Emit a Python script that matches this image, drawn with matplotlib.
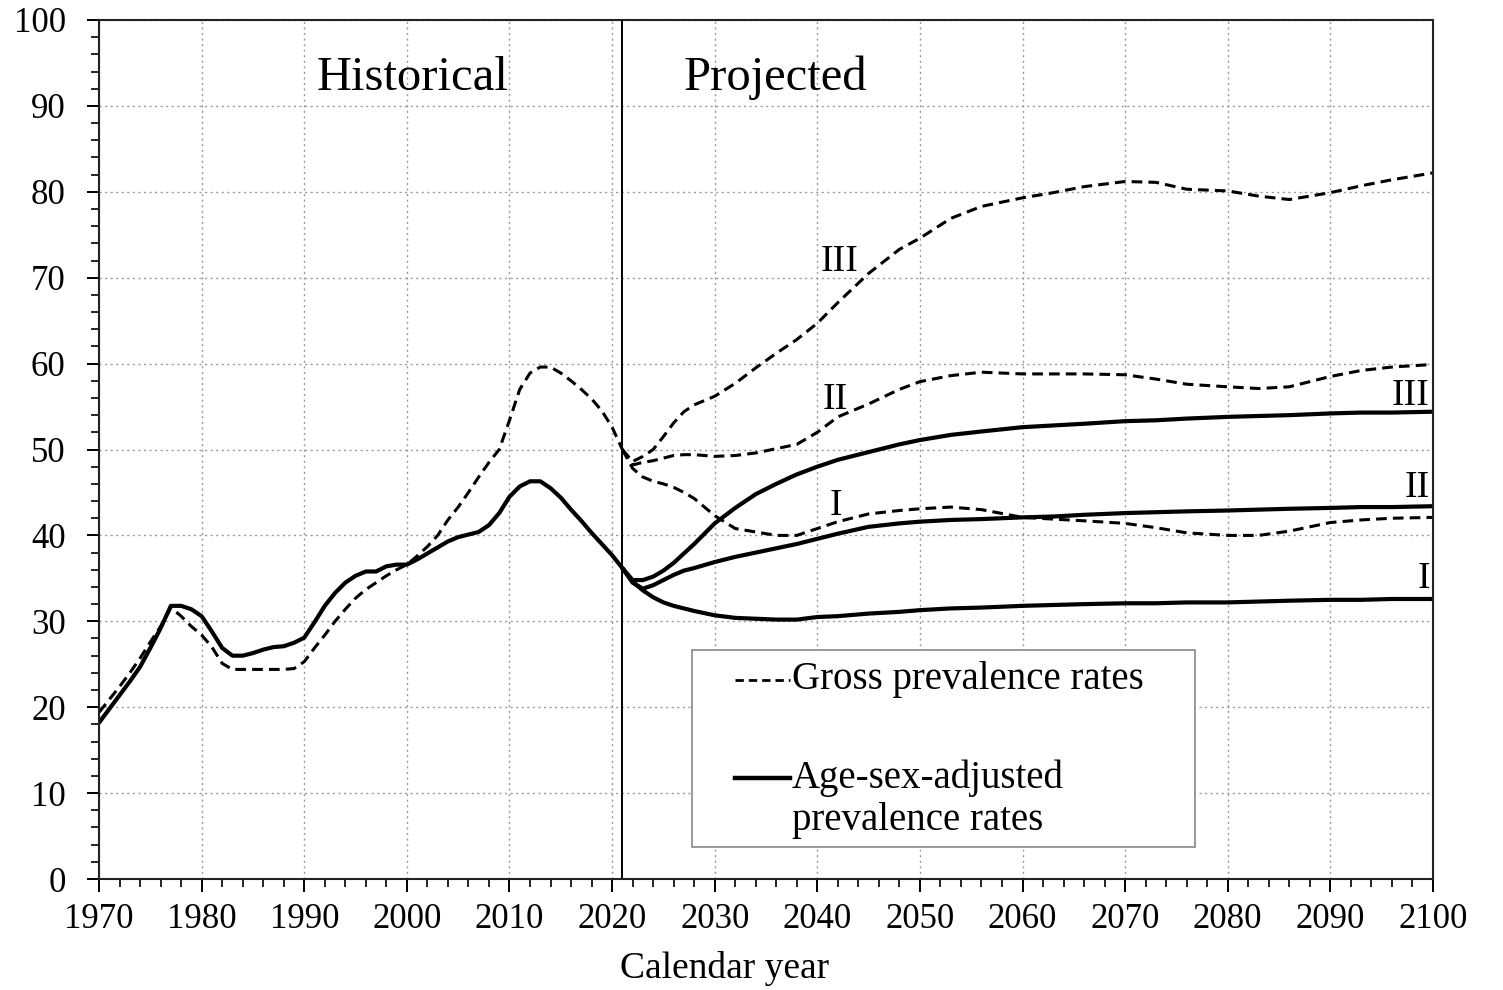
import matplotlib
matplotlib.use("Agg")
from matplotlib import pyplot as plt
from matplotlib.patches import Rectangle
from matplotlib.ticker import MultipleLocator

plt.rcParams['font.family'] = ['Liberation Serif', 'DejaVu Serif']

# historical series, 1970-2021
hist_years = list(range(1970, 2022))
hist_adjusted = [18.2, 19.8, 21.4, 23.0, 24.7, 26.9, 29.2, 31.8, 31.8, 31.4,
                 30.6, 28.8, 26.9, 26.0, 26.0, 26.3, 26.7, 27.0, 27.1, 27.5,
                 28.1, 29.9, 31.8, 33.3, 34.5, 35.3, 35.8, 35.8, 36.4, 36.6,
                 36.6, 37.2, 37.9, 38.6, 39.3, 39.8, 40.1, 40.4, 41.2, 42.6,
                 44.5, 45.7, 46.3, 46.3, 45.5, 44.4, 43.0, 41.7, 40.3, 39.0,
                 37.7, 36.2]
hist_gross = [19.4, 20.9, 22.4, 24.0, 25.7, 27.6, 29.4, 31.6, 30.6, 29.4,
              28.4, 27.0, 25.1, 24.4, 24.4, 24.4, 24.4, 24.4, 24.4, 24.5,
              25.3, 26.9, 28.4, 30.0, 31.4, 32.7, 33.7, 34.5, 35.3, 36.0,
              36.6, 37.6, 38.7, 40.0, 41.8, 43.3, 45.0, 46.8, 48.5, 50.0,
              53.4, 57.0, 58.9, 59.6, 59.6, 58.9, 58.0, 57.0, 55.9, 54.5,
              52.6, 50.0]

# projected scenarios I, II, III
proj_years = [2021, 2022, 2023, 2024, 2025, 2026, 2027, 2028, 2030, 2032,
              2034, 2036, 2038, 2040, 2042, 2045, 2048, 2050, 2053, 2056,
              2060, 2063, 2066, 2070, 2073, 2076, 2080, 2083, 2086, 2090,
              2093, 2096, 2100]
adj_I = [36.2, 34.6, 33.6, 32.8, 32.2, 31.8, 31.5, 31.2, 30.7, 30.4,
         30.3, 30.2, 30.2, 30.5, 30.6, 30.9, 31.1, 31.3, 31.5, 31.6,
         31.8, 31.9, 32.0, 32.1, 32.1, 32.2, 32.2, 32.3, 32.4, 32.5,
         32.5, 32.6, 32.6]
adj_II = [36.2, 34.5, 33.8, 34.2, 34.8, 35.4, 35.9, 36.2, 36.9, 37.5,
          38.0, 38.5, 39.0, 39.6, 40.2, 41.0, 41.4, 41.6, 41.8, 41.9,
          42.1, 42.2, 42.4, 42.6, 42.7, 42.8, 42.9, 43.0, 43.1, 43.2,
          43.3, 43.3, 43.4]
adj_III = [36.2, 34.8, 34.8, 35.2, 35.9, 36.8, 37.9, 39.0, 41.4, 43.2,
           44.8, 46.0, 47.1, 48.0, 48.8, 49.7, 50.6, 51.1, 51.7, 52.1,
           52.6, 52.8, 53.0, 53.3, 53.4, 53.6, 53.8, 53.9, 54.0, 54.2,
           54.3, 54.3, 54.4]
gross_I = [50.0, 47.8, 46.8, 46.3, 46.0, 45.6, 45.0, 44.3, 42.3, 40.8,
           40.4, 40.0, 40.0, 40.8, 41.6, 42.5, 42.9, 43.1, 43.3, 43.0,
           42.1, 41.9, 41.7, 41.4, 40.9, 40.3, 40.0, 40.0, 40.5, 41.5,
           41.8, 42.0, 42.1]
gross_II = [50.0, 48.2, 48.5, 48.7, 49.0, 49.3, 49.4, 49.4, 49.2, 49.3,
            49.6, 50.1, 50.6, 52.0, 53.8, 55.3, 57.0, 57.9, 58.6, 59.0,
            58.8, 58.8, 58.8, 58.7, 58.2, 57.6, 57.3, 57.1, 57.3, 58.5,
            59.2, 59.6, 59.9]
gross_III = [50.0, 48.6, 49.2, 50.0, 51.5, 53.1, 54.4, 55.2, 56.2, 57.7,
             59.5, 61.2, 62.8, 64.7, 67.1, 70.5, 73.3, 74.6, 76.9, 78.3,
             79.3, 79.9, 80.6, 81.2, 81.1, 80.3, 80.1, 79.5, 79.1, 79.9,
             80.7, 81.4, 82.2]

solid_kw = dict(color='black', lw=3.0, solid_capstyle='round', solid_joinstyle='round')
dash_kw = dict(color='black', lw=2.2, dashes=(3.5, 2.0))

fig = plt.figure(figsize=(15.03, 9.9), dpi=100)
ax = fig.add_axes([0.0659, 0.1121, 0.8875, 0.8677])

ax.plot(hist_years, hist_gross, **dash_kw)
ax.plot(hist_years, hist_adjusted, **solid_kw)
for s in (gross_I, gross_II, gross_III):
    ax.plot(proj_years, s, **dash_kw)
for s in (adj_I, adj_II, adj_III):
    ax.plot(proj_years, s, **solid_kw)

ax.axvline(2021, color='black', lw=1.4)

ax.set_xlim(1970, 2100)
ax.set_ylim(0, 100)
ax.xaxis.set_major_locator(MultipleLocator(10))
ax.xaxis.set_minor_locator(MultipleLocator(2))
ax.yaxis.set_major_locator(MultipleLocator(10))
ax.yaxis.set_minor_locator(MultipleLocator(2))
ax.grid(True, which='major', color='#999999', lw=1.0, ls=(0, (1.5, 2.5)))
ax.tick_params(which='major', direction='out', length=9, width=1.4, labelsize=25)
ax.tick_params(axis='x', which='major', pad=8)
ax.tick_params(axis='y', which='major', pad=15)
ax.tick_params(which='minor', direction='out', length=6, width=1.2)
for sp in ax.spines.values():
    sp.set_linewidth(1.5)
    sp.set_color('#222222')
ax.set_xlabel('Calendar year', fontsize=27, va='center')
ax.xaxis.set_label_coords(0.469, -0.1036)

ax.text(2000.6, 93.3, 'Historical', fontsize=35, ha='center', va='center')
ax.text(2035.9, 93.3, 'Projected', fontsize=35, ha='center', va='center')

# scenario labels
ax.text(2042.2, 71.8, 'III', fontsize=27, ha='center', va='center')
ax.text(2041.7, 55.8, 'II', fontsize=27, ha='center', va='center')
ax.text(2041.8, 43.5, 'I', fontsize=27, ha='center', va='center')
ax.text(2099.7, 56.3, 'III', fontsize=27, ha='right', va='center')
ax.text(2099.7, 45.6, 'II', fontsize=27, ha='right', va='center')
ax.text(2099.7, 34.9, 'I', fontsize=27, ha='right', va='center')

# legend box drawn by hand
tr = ax.transAxes
ax.add_patch(Rectangle((0.4445, 0.0373), 0.3771, 0.2293, transform=tr,
                       facecolor='white', edgecolor='#888888', lw=1.2, zorder=5))
ax.plot([0.4768, 0.5180], [0.2317, 0.2317], transform=tr, color='black',
        lw=2.0, dashes=(3.0, 1.8), zorder=6)
ax.plot([0.4768, 0.5180], [0.1176, 0.1176], transform=tr, color='black',
        lw=3.2, zorder=6)
ax.text(0.5195, 0.2317, 'Gross prevalence rates', transform=tr, fontsize=28,
        ha='left', va='center', zorder=7)
ax.text(0.5195, 0.1176, 'Age-sex-adjusted', transform=tr, fontsize=28,
        ha='left', va='center', zorder=7)
ax.text(0.5195, 0.0687, 'prevalence rates', transform=tr, fontsize=28,
        ha='left', va='center', zorder=7)

fig.savefig('out.png', dpi=100)
